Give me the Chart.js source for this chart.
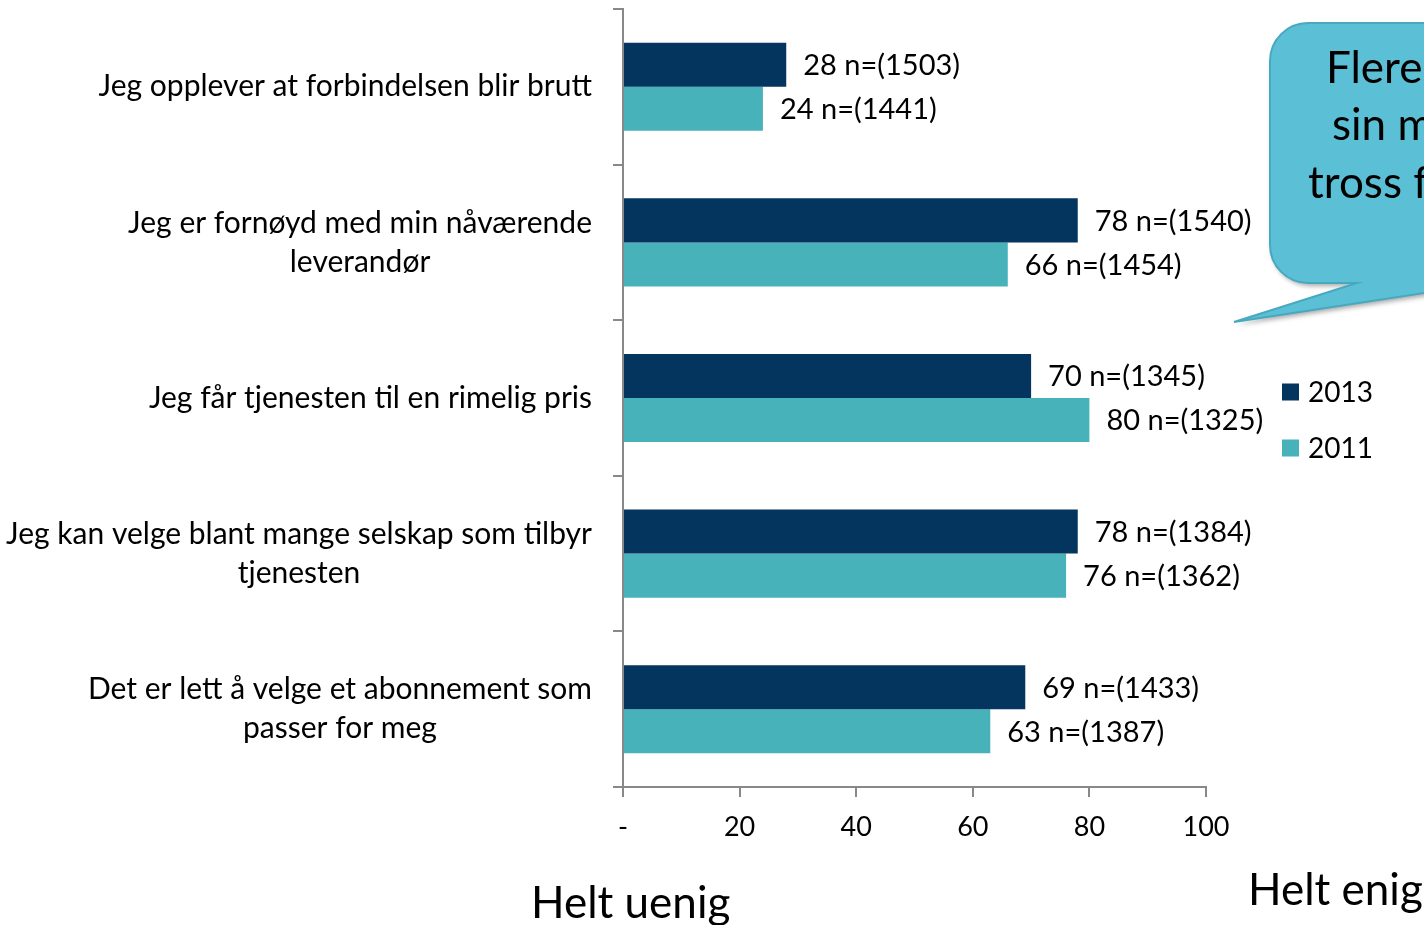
<!DOCTYPE html>
<html>
<head>
<meta charset="utf-8">
<script src="https://cdn.jsdelivr.net/npm/chart.js@4"></script>
<style>
  html, body { margin: 0; background: #fff; }
</style>
</head>
<body>
<canvas id="chart" width="1424" height="925"></canvas>
<script>
// Data
const categories = [
    ['Jeg opplever at forbindelsen blir brutt'],
    ['Jeg er fornøyd med min nåværende', 'leverandør'],
    ['Jeg får tjenesten til en rimelig pris'],
    ['Jeg kan velge blant mange selskap som tilbyr', 'tjenesten'],
    ['Det er lett å velge et abonnement som', 'passer for meg']
];
const seriesNames = ['2013', '2011'];
const values2013 = [28, 78, 70, 78, 69];
const values2011 = [24, 66, 80, 76, 63];
const n2013 = [1503, 1540, 1345, 1384, 1433];
const n2011 = [1441, 1454, 1325, 1362, 1387];
const calloutLines = ['Flere', 'sin m', 'tross f'];
const axisLeftText = 'Helt uenig';
const axisRightText = 'Helt enig';

const FONT = 'Lato, "Open Sans", sans-serif';
const colors = ['#03355F', '#48B2BB'];
const nValues = [n2013, n2011];

// draws category labels, value labels, legend, callout and end-of-scale texts
const extrasPlugin = {
    id: 'extras',
    afterDraw(chart) {
        const ctx = chart.ctx;
        const yScale = chart.scales.y;
        ctx.save();
        ctx.fillStyle = '#000';
        ctx.font = '30px ' + FONT;
        ctx.textBaseline = 'middle';

        // category labels: block right-aligned to the axis, lines centred in block
        const rightEdge = 592;
        const lineHeight = 39;
        categories.forEach((lines, i) => {
            const cy = yScale.getPixelForValue(i);
            const blockW = Math.max(...lines.map(l => ctx.measureText(l).width));
            const cx = rightEdge - blockW / 2;
            ctx.textAlign = 'center';
            lines.forEach((line, j) => {
                const y = cy + (j - (lines.length - 1) / 2) * lineHeight;
                ctx.fillText(line, cx, y);
            });
        });

        // value labels next to the bars
        ctx.font = '29px ' + FONT;
        ctx.textAlign = 'left';
        chart.data.datasets.forEach((ds, di) => {
            const meta = chart.getDatasetMeta(di);
            meta.data.forEach((bar, i) => {
                ctx.fillText(`${ds.data[i]} n=(${nValues[di][i]})`, bar.x + 17, bar.y + 1);
            });
        });

        // legend
        ctx.font = '28px ' + FONT;
        const legendY = [392, 448];
        seriesNames.forEach((name, i) => {
            ctx.fillStyle = colors[i];
            ctx.fillRect(1282, legendY[i] - 8.5, 17, 17);
            ctx.fillStyle = '#000';
            ctx.fillText(name, 1308, legendY[i] + 1);
        });

        // callout bubble (cut off by the right edge)
        const top = 23, bottom = 283, left = 1270, r = 38;
        ctx.save();
        ctx.shadowColor = 'rgba(0,0,0,0.35)';
        ctx.shadowOffsetX = 2;
        ctx.shadowOffsetY = 3;
        ctx.shadowBlur = 5;
        ctx.beginPath();
        ctx.moveTo(left + r, top);
        ctx.lineTo(1520, top);
        ctx.lineTo(1520, bottom);
        ctx.lineTo(1490, bottom);
        ctx.lineTo(1234, 322);
        ctx.lineTo(1357, bottom);
        ctx.lineTo(left + r, bottom);
        ctx.arcTo(left, bottom, left, bottom - r, r);
        ctx.lineTo(left, top + r);
        ctx.arcTo(left, top, left + r, top, r);
        ctx.closePath();
        ctx.fillStyle = '#5BC0D6';
        ctx.fill();
        ctx.restore();
        ctx.strokeStyle = '#46A9BF';
        ctx.lineWidth = 2;
        ctx.stroke();

        ctx.fillStyle = '#000';
        ctx.font = '44px ' + FONT;
        ctx.textAlign = 'left';
        const calloutX = [1326, 1332, 1308];
        const calloutY = [69, 126, 184];
        calloutLines.forEach((t, i) => ctx.fillText(t, calloutX[i], calloutY[i]));

        // scale end texts
        ctx.fillText(axisLeftText, 531, 904);
        ctx.fillText(axisRightText, 1248, 891);
        ctx.restore();
    }
};

new Chart(document.getElementById('chart'), {
    type: 'bar',
    data: {
        labels: categories.map(l => l.join(' ')),
        datasets: [
            { label: seriesNames[0], data: values2013, backgroundColor: colors[0], barPercentage: 1, categoryPercentage: 0.566 },
            { label: seriesNames[1], data: values2011, backgroundColor: colors[1], barPercentage: 1, categoryPercentage: 0.566 }
        ]
    },
    options: {
        indexAxis: 'y',
        responsive: false,
        animation: false,
        layout: { padding: { top: 9, right: 218, left: 0, bottom: 0 } },
        plugins: {
            legend: { display: false },
            tooltip: { enabled: false }
        },
        scales: {
            x: {
                min: 0,
                max: 100,
                ticks: {
                    stepSize: 20,
                    callback: v => (v === 0 ? '-' : v),
                    font: { family: FONT, size: 27 },
                    color: '#000',
                    padding: 14,
                    maxRotation: 0
                },
                grid: { drawOnChartArea: false, tickLength: 10, color: '#888', lineWidth: 2 },
                border: { color: '#888', width: 2 },
                afterFit: s => { s.height = 138; }
            },
            y: {
                ticks: { display: false },
                grid: { drawOnChartArea: false, tickLength: 10, color: '#888', lineWidth: 2, offset: true },
                border: { color: '#888', width: 2 },
                afterFit: s => { s.width = 623; }
            }
        }
    },
    plugins: [extrasPlugin]
});
</script>
</body>
</html>
